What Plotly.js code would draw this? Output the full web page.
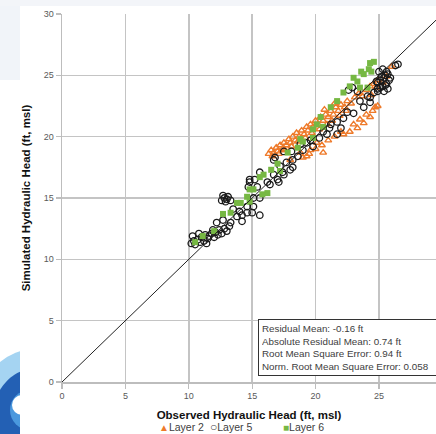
<!DOCTYPE html>
<html>
<head>
<meta charset="utf-8">
<script src="https://cdn.plot.ly/plotly-3.0.1.min.js"></script>
<style>html,body{margin:0;padding:0;background:#fff;}#chart{width:436px;height:434px;}</style>
</head>
<body>
<div id="chart"></div>
<script>
// ---- Data ----
const seriesNames = ["Layer 2", "Layer 5", "Layer 6"];

const layer2Obs = [16.3,16.5,16.7,16.9,17.0,17.2,17.4,17.5,17.7,17.9,18.0,18.2,18.4,18.5,18.7,18.9,19.1,19.3,19.4,19.6,19.8,20.0,20.2,20.4,20.6,20.7,20.8,21.0,21.2,21.4,21.5,21.6,21.8,22.0,22.3,22.5,22.8,23.1,23.4,23.7,24.0,24.3,24.6,24.9,
  16.6,17.1,17.6,18.1,18.6,19.2,19.7,20.3,20.9,21.3,21.9,22.4,
  17.5,18.0,18.8,19.0,19.3,19.6,20.1,20.6,19.5,20.0,20.5,21.0,21.5,22.2,22.7,23.3,23.8,24.3,24.7,24.9,22.0,23.0,23.5,24.0,24.5,
  24.4,24.8,25.3,25.6,26.0];
const layer2Sim = [18.6,18.9,18.7,19.1,18.8,19.3,19.0,19.5,19.3,19.8,19.5,20.0,19.7,20.3,20.0,20.5,20.2,20.8,20.5,21.0,20.8,21.3,21.0,21.6,21.3,22.2,21.8,21.6,22.1,21.8,22.7,22.4,22.1,22.6,22.4,22.9,22.7,23.2,23.5,23.3,23.8,24.1,24.3,24.6,
  18.4,18.6,18.9,19.2,19.6,19.9,20.3,20.6,21.0,21.3,21.7,22.1,
  18.9,18.1,18.7,18.3,18.4,18.9,19.5,18.7,18.6,19.0,19.3,19.7,20.0,20.2,20.4,20.7,21.1,21.6,22.4,22.5,20.4,21.0,21.4,21.8,22.1,
  23.4,24.0,24.4,24.9,25.7];

const layer5Obs = [10.2,10.4,10.5,10.7,10.9,11.0,11.2,11.3,11.5,11.6,11.8,12.0,12.1,12.3,12.4,12.6,12.8,13.0,10.3,10.8,13.2,11.4,
  12.2,11.9,12.7,13.8,14.0,14.6,13.5,13.3,
  12.6,12.8,12.9,13.1,13.0,13.3,12.7,
  15.6,14.2,14.6,14.7,14.8,15.2,14.2,15.0,15.1,
  16.7,17.2,15.6,14.8,17.0,17.5,16.4,15.1,15.6,18.6,19.0,19.8,19.3,18.2,
  17.1,17.4,18.0,16.7,16.2,15.4,18.2,17.5,17.7,
  18.8,20.6,21.2,21.7,22.2,22.5,22.6,22.9,23.3,23.5,23.8,24.1,24.3,24.6,24.9,25.1,25.4,25.7,25.1,25.4,25.5,26.5,26.3,
  21.1,23.0,20.9,20.3,19.6,18.1,16.8,24.3,24.9,22.0,21.7,
  25.0,25.3,25.5,25.8,25.6,25.3,25.7,25.9,25.2,24.8,24.9,25.6];
const layer5Sim = [11.3,11.5,11.2,11.6,11.4,11.8,11.5,12.0,11.7,11.9,12.1,11.8,12.2,12.0,12.4,12.1,12.5,12.3,11.9,12.1,12.7,11.3,
  13.0,12.4,13.2,13.5,13.9,13.8,14.1,13.0,
  14.8,15.0,14.7,15.1,14.9,14.8,15.2,
  13.6,13.6,14.3,15.9,16.5,16.5,13.1,13.8,14.3,
  18.1,17.6,17.1,16.3,16.5,16.9,16.1,15.0,15.0,18.4,18.9,19.2,19.5,17.5,
  16.3,17.1,17.3,16.9,16.3,15.9,18.1,18.8,17.9,
  19.4,20.4,21.0,21.2,21.5,22.0,23.8,24.0,23.7,22.9,22.4,23.3,22.8,23.6,24.4,24.6,24.8,25.1,24.0,23.7,24.2,25.9,25.8,
  20.7,21.9,20.2,19.9,19.7,18.8,18.3,23.2,23.7,20.7,20.2,
  25.3,25.5,25.0,24.6,24.3,24.1,23.9,24.8,24.9,24.5,23.9,25.3];

const layer6Obs = [10.5,11.1,12.0,
  12.7,13.3,13.8,14.1,14.6,14.8,15.1,15.6,15.9,16.2,15.8,14.8,16.5,17.0,17.2,17.8,18.8,19.8,20.6,
  18.6,19.0,19.8,20.1,20.4,21.2,21.7,22.2,22.7,23.0,23.3,23.5,23.6,23.8,24.1,24.2,24.3,24.4,24.6];
const layer6Sim = [11.4,11.9,12.3,
  13.7,13.8,14.6,14.6,15.1,14.7,15.7,16.7,16.9,15.4,15.3,15.7,17.3,17.8,17.2,18.7,19.8,20.6,20.8,
  19.1,19.6,19.9,21.0,21.6,22.4,22.9,23.6,24.1,24.8,24.5,24.0,25.3,25.1,24.0,25.5,26.0,25.3,26.1];

const oneToOne = [0, 30];
const xTickVals = [0, 5, 10, 15, 20, 25, 30];
const yTickVals = [0, 5, 10, 15, 20, 25, 30];

const statsLines = [
  "Residual Mean: -0.16 ft",
  "Absolute Residual Mean: 0.74 ft",
  "Root Mean Square Error: 0.94 ft",
  "Norm. Root Mean Square Error: 0.058"
];

const xTitle = "Observed Hydraulic Head (ft, msl)";
const yTitle = "Simulated Hydraulic Head (ft, msl)";

// ---- Styles ----
const ORANGE = "#EE7A2A", BLACK = "#1a1a1a", GREEN = "#76b843";
const FONT = "Liberation Sans, Arial, sans-serif";

// pixel helpers for decoration placement (plot area: x 62..436, y 14..382)
const W = 436, H = 434, L = 62, T = 14, B = 52, R = 0;
const pw = W - L - R, ph = H - T - B;
const fx = p => (p - L) / pw;
const fy = p => (H - B - p) / ph;

const traces = [
  {x: layer2Obs, y: layer2Sim, name: seriesNames[0], type: "scatter", mode: "markers",
   marker: {symbol: "triangle-up-open", size: 6, color: ORANGE, line: {width: 1.4, color: ORANGE}}},
  {x: layer5Obs, y: layer5Sim, name: seriesNames[1], type: "scatter", mode: "markers",
   marker: {symbol: "circle-open", size: 6.5, color: BLACK, line: {width: 1.3, color: BLACK}}},
  {x: layer6Obs, y: layer6Sim, name: seriesNames[2], type: "scatter", mode: "markers",
   marker: {symbol: "square", size: 6, color: GREEN}},
  {x: oneToOne, y: oneToOne, type: "scatter", mode: "lines", showlegend: false,
   line: {color: "#222", width: 1}}
];

const legendGlyphs = [
  {glyph: "▲", color: ORANGE, size: 10, px: 157},
  {glyph: "○", color: "#444", size: 12, px: 208},
  {glyph: "■", color: GREEN, size: 10, px: 281}
];

const annotations = [];
legendGlyphs.forEach((g, i) => {
  annotations.push({
    xref: "paper", yref: "paper", x: fx(g.px), y: fy(427), xanchor: "left", yanchor: "middle",
    showarrow: false,
    text: `<span style="color:${g.color};font-size:${g.size}px">${g.glyph}</span>${seriesNames[i]}`,
    font: {family: FONT, size: 10.5, color: "#404040"}
  });
});
annotations.push({
  xref: "paper", yref: "paper", x: fx(258), y: fy(319), xanchor: "left", yanchor: "top",
  showarrow: false, align: "left", width: 200,
  text: statsLines.join("<br>"),
  font: {family: FONT, size: 9.8, color: "#404040"},
  bordercolor: "#333", borderwidth: 1, borderpad: 3, bgcolor: "#fff"
});

const shapes = [
  {type: "rect", xref: "paper", yref: "paper", x0: fx(0), x1: fx(20), y0: fy(80), y1: fy(0),
   fillcolor: "#f1f4f9", line: {width: 0}, layer: "below"},
  {type: "rect", xref: "paper", yref: "paper", x0: fx(0), x1: fx(436), y0: fy(6), y1: fy(0),
   fillcolor: "#f3f5f9", line: {width: 0}, layer: "below"},
  {type: "circle", xref: "paper", yref: "paper", x0: fx(-24), x1: fx(104), y0: fy(476), y1: fy(348),
   fillcolor: "#a5d4f2", line: {width: 0}, layer: "below"},
  {type: "circle", xref: "paper", yref: "paper", x0: fx(-6), x1: fx(82), y0: fy(456), y1: fy(368),
   fillcolor: "#2360b4", line: {width: 0}, layer: "below"},
  {type: "circle", xref: "paper", yref: "paper", x0: fx(10), x1: fx(50), y0: fy(430), y1: fy(390),
   fillcolor: "#4a98de", line: {width: 0}, layer: "below"},
  {type: "circle", xref: "paper", yref: "paper", x0: fx(12), x1: fx(32), y0: fy(415), y1: fy(395),
   fillcolor: "#ffffff", line: {width: 0}, layer: "below"},
  {type: "rect", xref: "paper", yref: "paper", x0: fx(20), x1: fx(110), y0: fy(440), y1: fy(330),
   fillcolor: "#ffffff", line: {width: 0}, layer: "below"}
];

const axisCommon = {
  showgrid: true, gridcolor: "#c4c4c4", gridwidth: 1.5,
  showline: true, linecolor: "#bdbdbd", linewidth: 1.5,
  zeroline: false, ticks: "outside", ticklen: 5, tickcolor: "#bdbdbd", tickwidth: 1.2,
  tickfont: {family: FONT, size: 9, color: "#595959"}, automargin: false
};

const layout = {
  width: W, height: H,
  margin: {l: L, r: R, t: T, b: B, pad: 0},
  paper_bgcolor: "#ffffff", plot_bgcolor: "#ffffff",
  showlegend: false,
  font: {family: FONT},
  xaxis: Object.assign({}, axisCommon, {
    range: [0, 29.5], tickvals: xTickVals, ticktext: xTickVals.map(String),
    title: {text: xTitle, font: {family: FONT, size: 11.5, color: "#111"}, standoff: 10}
  }),
  yaxis: Object.assign({}, axisCommon, {
    range: [0, 30], tickvals: yTickVals, ticktext: yTickVals.map(String),
    title: {text: yTitle, font: {family: FONT, size: 11.5, color: "#111"}, standoff: 10}
  }),
  annotations: annotations,
  shapes: shapes
};
layout.xaxis.title.text = "<b>" + xTitle + "</b>";
layout.yaxis.title.text = "<b>" + yTitle + "</b>";

Plotly.newPlot("chart", traces, layout, {staticPlot: true, displayModeBar: false});
</script>
</body>
</html>
